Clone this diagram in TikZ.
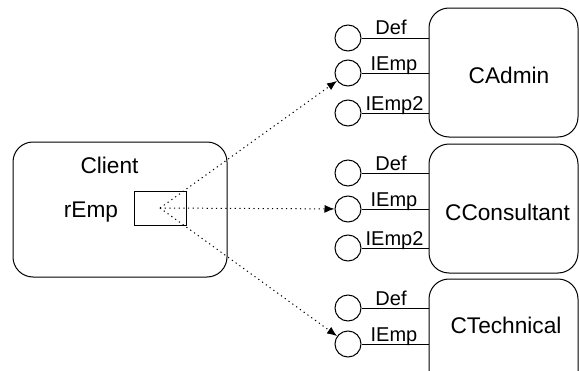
\documentclass[tikz,border=0pt]{standalone}
\usepackage{fontspec}
\setmainfont{Liberation Sans}
\usetikzlibrary{arrows.meta}
\begin{document}
\begin{tikzpicture}[x=0.75pt,y=-0.75pt, line width=0.75pt,
 box/.style={draw, rounded corners=15pt, inner sep=0pt},
 big/.style={font=\fontsize{17}{20}\selectfont, inner sep=0pt, anchor=base},
 lbl/.style={font=\fontsize{15}{18}\selectfont, inner sep=0pt, anchor=base},
 port/.style={draw, circle, minimum size=19.5pt, inner sep=0pt},
 link/.style={draw, dash pattern=on 0.9pt off 2.6pt, -{Latex[length=7.5pt,width=6pt]}}]
\useasboundingbox (0,0) rectangle (579,371);
\fill[white] (0,0) rectangle (579,371);
\clip (0,0) rectangle (579,371);
% client
\node[box, minimum width=160.5pt, minimum height=101.25pt] (client) at (120,209.5) {};
\node[big] (clientt) at (109.5,173) {Client};
\node[big] (rempt) at (91,217) {rEmp};
\node[draw, minimum width=39pt, minimum height=25.5pt, inner sep=0pt] (remp) at (160,208) {};
% components
\node[box, minimum width=111.75pt, minimum height=96.75pt] (ca) at (503.5,72.5) {};
\node[big] (cat) at (509,83) {CAdmin};
\node[box, minimum width=111.75pt, minimum height=96.75pt] (cc) at (503.5,208.5) {};
\node[big] (cct) at (507.5,220) {CConsultant};
\node[box, minimum width=111.75pt, minimum height=96.75pt] (ct) at (503.5,343.5) {};
\node[big] (ctt) at (506,333) {CTechnical};
% ports CAdmin
\node[port] (caD) at (348,38) {};
\node[port] (caI) at (348,73) {};
\node[port] (caI2) at (348,113) {};
\draw (caD.east) -- (ca.west |- caD.east);
\draw (caI.east) -- (ca.west |- caI.east);
\draw (caI2.east) -- (ca.west |- caI2.east);
\node[lbl] (caDl) at (391,35) {Def};
\node[lbl] (caIl) at (394,70) {IEmp};
\node[lbl] (caI2l) at (394.5,110) {IEmp2};
% ports CConsultant
\node[port] (ccD) at (348,173) {};
\node[port] (ccI) at (348,209) {};
\node[port] (ccI2) at (348,248) {};
\draw (ccD.east) -- (cc.west |- ccD.east);
\draw (ccI.east) -- (cc.west |- ccI.east);
\draw (ccI2.east) -- (cc.west |- ccI2.east);
\node[lbl] (ccDl) at (391,170) {Def};
\node[lbl] (ccIl) at (394,206) {IEmp};
\node[lbl] (ccI2l) at (394.5,245) {IEmp2};
% ports CTechnical
\node[port] (ctD) at (348,308) {};
\node[port] (ctI) at (348,344) {};
\draw (ctD.east) -- (ct.west |- ctD.east);
\draw (ctI.east) -- (ct.west |- ctI.east);
\node[lbl] (ctDl) at (391,305) {Def};
\node[lbl] (ctIl) at (394,341) {IEmp};
% links
\draw[link] (remp.center) -- (caI);
\draw[link] (remp.center) -- (ccI);
\draw[link] (remp.center) -- (ctI);
\end{tikzpicture}
\end{document}
